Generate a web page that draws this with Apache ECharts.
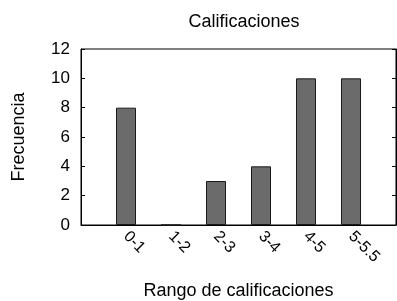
<!DOCTYPE html>
<html>
<head>
<meta charset="utf-8">
<script src="https://cdn.jsdelivr.net/npm/echarts@6/dist/echarts.min.js"></script>
<style>
  html, body { margin: 0; padding: 0; background: #fff; }
  #chart { width: 397px; height: 301px; }
</style>
</head>
<body>
<div id="chart"></div>
<script>
// rangos (con huecos vacíos a los lados para dejar margen)
var categories = ['', '0-1', '1-2', '2-3', '3-4', '4-5', '5-5.5', '']
var frecuencias = [null, 8, 0, 3, 4, 10, 10, null]
var yTicks = [0, 2, 4, 6, 8, 10, 12]

var chart = echarts.init(document.getElementById('chart'))
var font = 'Liberation Sans, Arial, Helvetica, sans-serif'

var option = {
  animation: false,
  title: {
    text: 'Calificaciones',
    left: 239,
    top: 8,
    textAlign: 'center',
    textStyle: { fontSize: 18, fontWeight: 'normal', color: '#000', fontFamily: font }
  },
  grid: {
    left: 81, right: 1, top: 49, bottom: 76,
    outerBoundsMode: 'none',
    containLabel: false,
    show: true, borderColor: '#000', borderWidth: 1, backgroundColor: 'transparent'
  },
  xAxis: {
    type: 'category',
    data: categories,
    boundaryGap: false,
    name: 'Rango de calificaciones',
    nameLocation: 'middle',
    nameGap: 57,
    nameTextStyle: { fontSize: 18, color: '#000', fontFamily: font },
    axisLine: { lineStyle: { color: '#000' } },
    axisTick: { show: false },
    axisLabel: {
      interval: 0, rotate: -45, margin: 9,
      fontSize: 16, color: '#000', fontFamily: font
    },
    splitLine: { show: false }
  },
  yAxis: [
    {
      type: 'value', min: 0, max: 12, interval: 2,
      name: 'Frecuencia',
      nameLocation: 'middle',
      nameGap: 53,
      nameTextStyle: { fontSize: 18, color: '#000', fontFamily: font },
      axisLine: { show: true, lineStyle: { color: '#000' } },
      axisTick: { show: true, inside: true, length: 4, lineStyle: { color: '#000' } },
      axisLabel: {
        margin: 11, fontSize: 17, color: '#000', fontFamily: font,
        formatter: function (v) { return yTicks.indexOf(v) >= 0 ? String(v) : '' }
      },
      splitLine: { show: false }
    },
    {
      type: 'value', min: 0, max: 12, interval: 2, position: 'right',
      axisLine: { show: true, lineStyle: { color: '#000' } },
      axisTick: { show: true, inside: true, length: 4, lineStyle: { color: '#000' } },
      axisLabel: { show: false },
      splitLine: { show: false }
    }
  ],
  series: [
    {
      type: 'bar',
      data: frecuencias,
      barWidth: 20,
      itemStyle: { color: '#6b6b6b', borderColor: '#1a1a1a', borderWidth: 1 }
    }
  ]
}
option && chart.setOption(option)
</script>
</body>
</html>
